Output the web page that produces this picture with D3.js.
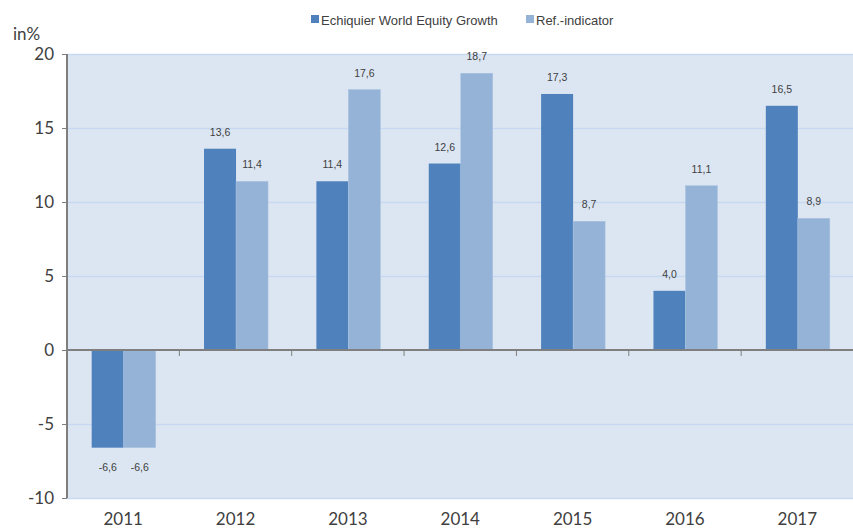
<!DOCTYPE html>
<html>
<head>
<meta charset="utf-8">
<script src="https://cdn.jsdelivr.net/npm/d3@7"></script>
<style>
  body { margin: 0; background: #fff; }
  svg text { font-family: Lato, "Open Sans", sans-serif; }
  svg text.arial { font-family: "Liberation Sans", Arial, sans-serif; }
</style>
</head>
<body>
<svg id="chart" width="853" height="528"></svg>
<script>
// dados
var anos = ["2011", "2012", "2013", "2014", "2015", "2016", "2017"];
var fundo = [-6.6, 13.6, 11.4, 12.6, 17.3, 4.0, 16.5];
var indicador = [-6.6, 11.4, 17.6, 18.7, 8.7, 11.1, 8.9];
var series = ["Echiquier World Equity Growth", "Ref.-indicator"];
var cores = ["#4f81bd", "#95b3d7"];
var yTicks = [-10, -5, 0, 5, 10, 15, 20];

var svg = d3.select("#chart");
var m = {left: 67, right: 853, top: 54, bottom: 498};

var x = d3.scaleBand().domain(anos).range([m.left, m.right + 0.5]);
var y = d3.scaleLinear().domain([-10, 20]).range([m.bottom, m.top]);
var xs = d3.scaleBand().domain([0, 1]).range([0, 64]);

// fundo da área do gráfico
svg.append("rect")
  .attr("x", m.left).attr("y", m.top)
  .attr("width", m.right - m.left).attr("height", m.bottom - m.top)
  .attr("fill", "#dce6f2");

// linhas de grade
svg.append("g").selectAll("line")
  .data(yTicks.filter(d => d !== 0))
  .enter().append("line")
  .attr("x1", m.left).attr("x2", m.right)
  .attr("y1", d => y(d) + 0.5).attr("y2", d => y(d) + 0.5)
  .attr("stroke", "#c6d9f1").attr("stroke-width", 1.5);

var dados = anos.map((a, i) => ({ano: a, vals: [fundo[i], indicador[i]]}));

var grupos = svg.append("g").selectAll("g")
  .data(dados).enter().append("g")
  .attr("transform", d => "translate(" + (x(d.ano) + x.bandwidth() / 2 - 31.5) + ",0)");

grupos.selectAll("rect")
  .data(d => d.vals.map((v, k) => ({v: v, k: k})))
  .enter().append("rect")
  .attr("x", d => xs(d.k))
  .attr("width", xs.bandwidth())
  .attr("y", d => y(Math.max(0, d.v)))
  .attr("height", d => Math.abs(y(d.v) - y(0)))
  .attr("fill", d => cores[d.k])
  .attr("stroke", d => d.k === 1 ? "#aac3e2" : "none")
  .attr("stroke-width", 0.5);

grupos.selectAll("text")
  .data(d => d.vals.map((v, k) => ({v: v, k: k})))
  .enter().append("text")
  .attr("class", "arial")
  .attr("x", d => xs(d.k) + xs.bandwidth() / 2)
  .attr("y", d => d.v >= 0 ? y(d.v) - 13 : y(d.v) + 23)
  .attr("text-anchor", "middle")
  .attr("font-size", 10.5)
  .attr("fill", "#404040")
  .text(d => d3.format(".1f")(d.v).replace(".", ",").replace("−", "-"));

// eixo y
var eixoY = svg.append("g")
  .attr("transform", "translate(" + m.left + ",0)")
  .call(d3.axisLeft(y).tickValues(yTicks).tickSize(5).tickPadding(8).tickFormat(d => String(d)));
eixoY.select(".domain").attr("stroke", "#7f7f7f").attr("stroke-width", 2).attr("d", "M0," + m.top + "V" + m.bottom);
eixoY.selectAll(".tick line").attr("stroke", "#7f7f7f");
eixoY.selectAll(".tick text")
  .attr("font-size", 17).attr("fill", "#404040");

// linha do zero com marcas entre categorias
svg.append("line")
  .attr("x1", m.left).attr("x2", m.right)
  .attr("y1", y(0)).attr("y2", y(0))
  .attr("stroke", "#7f7f7f").attr("stroke-width", 2);
svg.append("g").selectAll("line")
  .data(anos.slice(1))
  .enter().append("line")
  .attr("x1", d => x(d)).attr("x2", d => x(d))
  .attr("y1", y(0)).attr("y2", y(0) + 6)
  .attr("stroke", "#7f7f7f");

// rótulos dos anos
svg.append("g").selectAll("text")
  .data(anos).enter().append("text")
  .attr("x", d => x(d) + x.bandwidth() / 2)
  .attr("y", 525)
  .attr("text-anchor", "middle")
  .attr("font-size", 17).attr("fill", "#404040")
  .text(d => d);

// unidade
svg.append("text")
  .attr("x", 13).attr("y", 40)
  .attr("font-size", 17).attr("fill", "#404040")
  .text("in%");

// legenda
var legX = [311, 526];
var leg = svg.append("g").selectAll("g")
  .data(series).enter().append("g")
  .attr("transform", (d, i) => "translate(" + legX[i] + ",15)");
leg.append("rect").attr("width", 8).attr("height", 8).attr("fill", (d, i) => cores[i]);
leg.append("text")
  .attr("class", "arial")
  .attr("x", 10).attr("y", 9.5)
  .attr("font-size", 13).attr("fill", "#404040")
  .text(d => d);
</script>
</body>
</html>
